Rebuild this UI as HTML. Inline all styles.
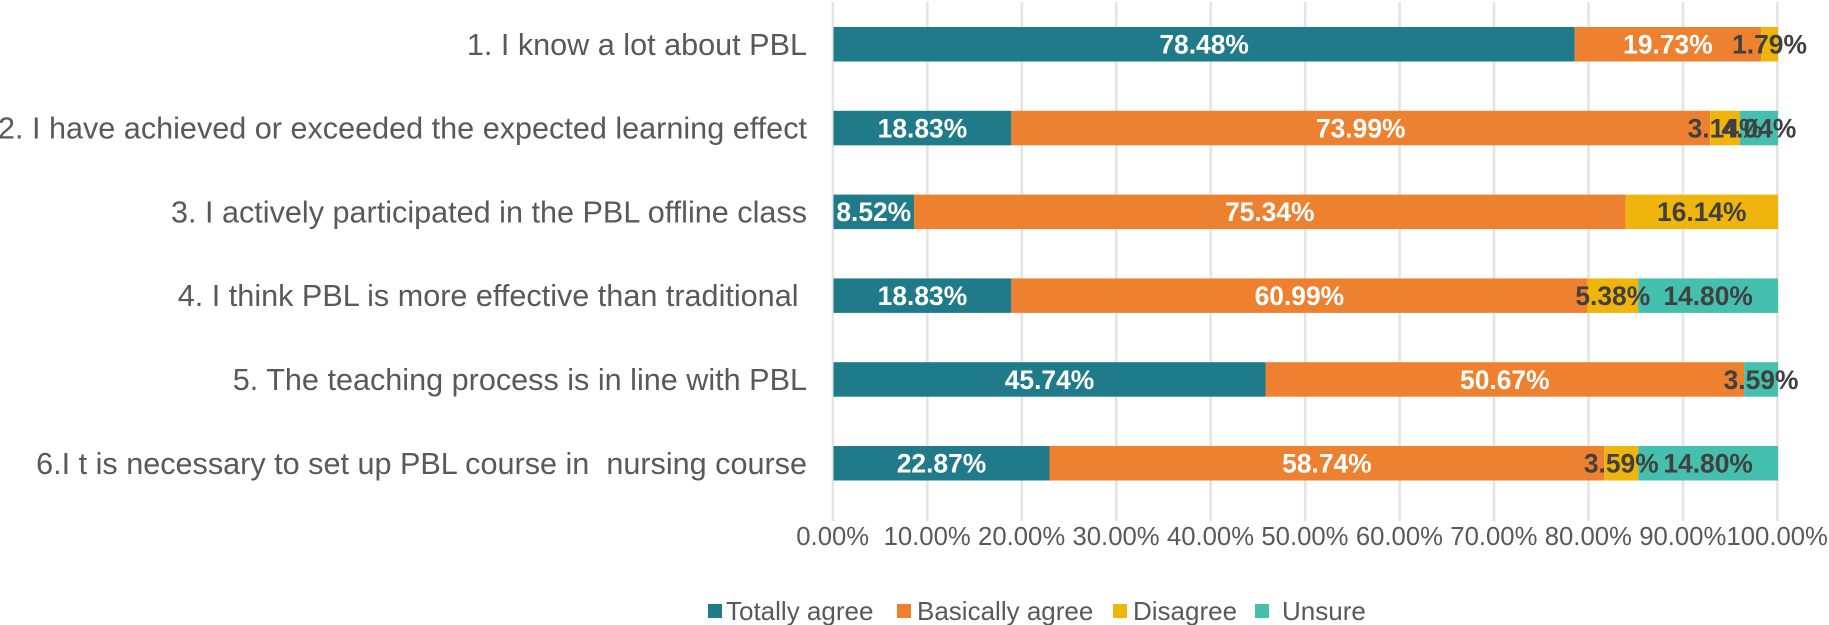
<!DOCTYPE html>
<html>
<head>
<meta charset="utf-8">
<title>PBL survey chart</title>
<style>
html,body{margin:0;padding:0;background:#fff;}
svg{display:block;font-family:"Liberation Sans",Arial,sans-serif;}
text{white-space:pre;}
</style>
</head>
<body>
<svg id="chart" xmlns="http://www.w3.org/2000/svg" width="1829" height="625" viewBox="0 0 1829 625"></svg>
<script>
const categories = [
  "1. I know a lot about PBL",
  "2. I have achieved or exceeded the expected learning effect",
  "3. I actively participated in the PBL offline class",
  "4. I think PBL is more effective than traditional ",
  "5. The teaching process is in line with PBL",
  "6.I t is necessary to set up PBL course in  nursing course"
];
const totallyAgree = [78.48, 18.83, 8.52, 18.83, 45.74, 22.87];
const basicallyAgree = [19.73, 73.99, 75.34, 60.99, 50.67, 58.74];
const disagree = [1.79, 3.14, 16.14, 5.38, 0, 3.59];
const unsure = [0, 4.04, 0, 14.80, 3.59, 14.80];
const tickValues = [0, 10, 20, 30, 40, 50, 60, 70, 80, 90, 100];
const seriesNames = ["Totally agree", "Basically agree", "Disagree", "Unsure"];

const NS = "http://www.w3.org/2000/svg";
const svg = document.getElementById("chart");
const allSeries = [totallyAgree, basicallyAgree, disagree, unsure];
const colors = ["#1f7a89", "#ee8130", "#f0b50c", "#45bfae"];
const labelColors = ["#ffffff", "#ffffff", "#404040", "#404040"];
const legendSwatchX = [708, 897, 1113, 1255];
const legendTextX = [726, 917, 1133, 1282];

function xScale(v) { return 833.5 + (v / 100) * 944.5; }
function rowTop(i) { return 27 + i * 83.8; }
const barHeight = 34.5;

function make(tag, attrs) {
  const el = document.createElementNS(NS, tag);
  for (const k in attrs) el.setAttribute(k, attrs[k]);
  return el;
}

tickValues.forEach(function (t) {
  const line = make("line", { x1: xScale(t) - 0.6, x2: xScale(t) - 0.6, y1: 2, y2: 521, stroke: "#e4e4e4", "stroke-width": 2.6 });
  
  
  svg.appendChild(line);
  const label = make("text", { x: xScale(t) - 0.8, y: 545, "text-anchor": "middle", "font-size": 25.7, fill: "#595959" });
  
  
  label.textContent = t.toFixed(2) + "%";
  svg.appendChild(label);
});

categories.forEach(function (c, i) {
  const label = make("text", { x: 807, y: rowTop(i) + barHeight / 2 + 10.5, "text-anchor": "end", "font-size": 30.6, fill: "#595959" });
  
  
  label.textContent = c;
  svg.appendChild(label);
});

categories.forEach(function (c, i) {
  let cum = 0;
  allSeries.forEach(function (s, k) {
    const v = s[i];
    if (v > 0) {
      const bar = make("rect", { x: xScale(cum), y: rowTop(i), width: xScale(cum + v) - xScale(cum), height: barHeight, fill: colors[k] });
      
      
      svg.appendChild(bar);
    }
    cum += v;
  });
});

categories.forEach(function (c, i) {
  let cum = 0;
  allSeries.forEach(function (s, k) {
    const v = s[i];
    if (v > 0) {
      const label = make("text", { x: xScale(cum + v / 2), y: rowTop(i) + barHeight / 2 + 9.3, "text-anchor": "middle", "font-size": 26.4, "font-weight": "bold", fill: labelColors[k] });
      
      
      label.textContent = v.toFixed(2) + "%";
      svg.appendChild(label);
    }
    cum += v;
  });
});

seriesNames.forEach(function (n, k) {
  const swatch = make("rect", { x: legendSwatchX[k], y: 604, width: 14, height: 14, fill: colors[k] });
  
  
  svg.appendChild(swatch);
  const label = make("text", { x: legendTextX[k], y: 620, "font-size": 26, fill: "#595959" });
  
  
  label.textContent = n;
  svg.appendChild(label);
});
</script>
</body>
</html>
